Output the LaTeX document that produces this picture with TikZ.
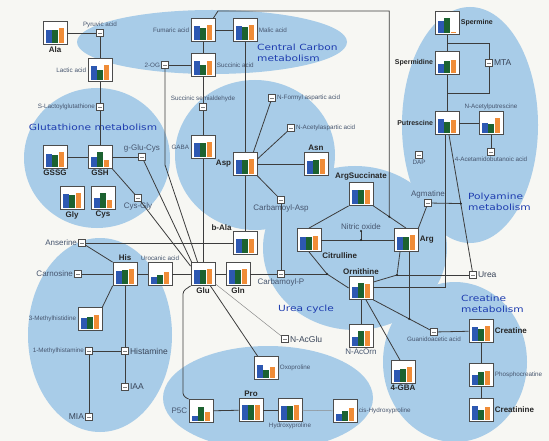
\documentclass[tikz,border=0pt]{standalone}
\usepackage{fontspec}
\setmainfont{Liberation Sans}
\newfontfamily\pathfont[FakeStretch=1.25]{DejaVu Sans}
\usetikzlibrary{positioning,calc}

\definecolor{bgcol}{RGB}{247,247,243}
\definecolor{blobcol}{RGB}{168,204,232}
\definecolor{barblue}{RGB}{45,88,178}
\definecolor{bargreen}{RGB}{28,98,48}
\definecolor{barorange}{RGB}{240,140,55}
\definecolor{pathcol}{RGB}{30,60,175}
\definecolor{labcol}{RGB}{70,85,110}
\definecolor{linecol}{RGB}{60,60,60}

% bar chart box: name, x, y, three bar heights
\newcommand{\barbox}[6]{%
  \node[chart] (#1) at (#2,#3) {};
  \fill[barblue] ([xshift=-9pt,yshift=2pt]#1.south) rectangle ++(5.5pt,#4*17pt);
  \fill[bargreen] ([xshift=-2.75pt,yshift=2pt]#1.south) rectangle ++(5.5pt,#5*17pt);
  \fill[barorange] ([xshift=3.5pt,yshift=2pt]#1.south) rectangle ++(5.5pt,#6*17pt);
}

\begin{document}
\begin{tikzpicture}[x=1pt,y=-1pt,
  chart/.style={draw=black!70, fill=white, line width=0.8pt, minimum width=24pt, minimum height=23pt, inner sep=0pt},
  met/.style={draw=black!70, fill=white, line width=0.6pt, minimum size=6.5pt, inner sep=0pt,
    path picture={\draw[black!50,line width=0.4pt] ([xshift=-1.6pt]path picture bounding box.center) -- ([xshift=1.6pt]path picture bounding box.center);}},
  sm/.style={font=\fontsize{6.3}{7}\selectfont, text=labcol, inner sep=0.8pt},
  md/.style={font=\fontsize{8}{9}\selectfont, text=labcol, inner sep=0.8pt},
  lg/.style={font=\fontsize{8.5}{9.5}\selectfont, text=labcol!80!black, inner sep=0.8pt},
  nm/.style={font=\fontsize{8}{9}\selectfont\bfseries, text=black!85, inner sep=0.8pt},
  nms/.style={font=\fontsize{7}{8}\selectfont\bfseries, text=black!85, inner sep=0.8pt},
  pw/.style={font=\pathfont\fontsize{8.5}{10.5}\selectfont, text=pathcol, align=left, inner sep=0pt},
  link/.style={draw=linecol, line width=0.8pt},
  thinlink/.style={draw=black!45, line width=0.5pt}
]
\fill[bgcol] (0,0) rectangle (549,441);
\useasboundingbox (0,0) rectangle (549,441);

% pathway areas
\fill[blobcol] (212,42) ellipse [x radius=135, y radius=32];
\fill[blobcol] (97,158) ellipse [x radius=73, y radius=70];
\fill[blobcol] (255,155) ellipse [x radius=80, y radius=75];
\fill[blobcol] (355,248) ellipse [x radius=92, y radius=82];
\fill[blobcol] (470,125) ellipse [x radius=68, y radius=118];
\fill[blobcol] (100,335) ellipse [x radius=72, y radius=97];
\fill[blobcol] (268,398) ellipse [x radius=105, y radius=52];
\fill[blobcol] (455,362) ellipse [x radius=72, y radius=80];

\node[pw, anchor=west] (pcc) at (257,53) {Central Carbon\\metabolism};
\node[pw] (pgt) at (93,127) {Glutathione metabolism};
\node[pw] (puc) at (306,309) {Urea cycle};
\node[pw, anchor=west] (ppa) at (468,202) {Polyamine\\metabolism};
\node[pw, anchor=west] (pcr) at (461,304) {Creatine\\metabolism};

% measured metabolites
\barbox{Ala}{55}{33}{0.75}{0.75}{0.85}
\barbox{Lac}{100}{70}{0.8}{0.6}{0.85}
\barbox{Fum}{203}{30}{0.8}{0.7}{0.85}
\barbox{Mal}{245}{30}{0.8}{0.75}{0.85}
\barbox{Suc}{203}{65}{0.8}{0.6}{0.8}
\barbox{GABA}{203}{147}{0.8}{0.8}{0.85}
\barbox{GSSG}{55}{157}{0.75}{0.7}{0.85}
\barbox{GSH}{100}{157}{0.6}{0.85}{0.4}
\barbox{Gly}{72}{198}{0.8}{0.75}{0.85}
\barbox{Cys}{103}{198}{0.6}{0.85}{0.45}
\barbox{Asp}{245}{164}{0.8}{0.8}{0.85}
\barbox{Asn}{316}{164}{0.75}{0.8}{0.85}
\barbox{bAla}{245}{243}{0.8}{0.8}{0.8}
\barbox{ArgS}{361}{194}{0.8}{0.8}{0.8}
\barbox{Cit}{309}{240}{0.75}{0.75}{0.8}
\barbox{Arg}{406}{240}{0.75}{0.75}{0.9}
\barbox{Orn}{361}{288}{0.65}{0.85}{0.8}
\barbox{His}{125}{274}{0.75}{0.8}{0.85}
\barbox{Uro}{160}{274}{0.4}{0.55}{0.7}
\barbox{Glu}{203}{274}{0.8}{0.8}{0.85}
\barbox{Gln}{238}{274}{0.8}{0.8}{0.85}
\barbox{MeHis}{90}{319}{0.65}{0.7}{0.8}
\barbox{Spm}{447}{23}{0.7}{0.85}{0.04}
\barbox{Spd}{447}{63}{0.5}{0.7}{0.75}
\barbox{Put}{447}{123}{0.8}{0.65}{0.75}
\barbox{AcPut}{491}{123}{0.6}{0.5}{0.85}
\barbox{AcOrn}{361}{336}{0.55}{0.85}{0.85}
\barbox{GBA}{403}{372}{0.7}{0.75}{0.85}
\barbox{Cr}{481}{331}{0.8}{0.7}{0.85}
\barbox{PCr}{481}{375}{0.6}{0.75}{0.8}
\barbox{Crn}{481}{410}{0.8}{0.6}{0.75}
\barbox{Oxo}{266}{368}{0.75}{0.45}{0.65}
\barbox{PC}{201}{411}{0.3}{0.8}{0.5}
\barbox{Pro}{251}{410}{0.85}{0.85}{0.9}
\barbox{Hyp}{290}{410}{0.8}{0.8}{0.85}
\barbox{cHyp}{345}{411}{0.4}{0.6}{0.75}

% other metabolites
\begin{scope}[every node/.style={met}]
    \node (pyr) at (100,33) {};
    \node (og) at (165,65) {};
    \node (slg) at (100,107) {};
    \node (ssa) at (203,107) {};
    \node (nfa) at (272,98) {};
    \node (naa) at (291,128) {};
    \node (ggc) at (142,157) {};
    \node (cg) at (138,198) {};
    \node (ans) at (82,243) {};
    \node (car) at (78,274) {};
    \node (cap) at (281,200) {};
    \node (cp) at (281,274) {};
    \node (agm) at (428,203) {};
    \node (urea) at (473,275) {};
    \node (mta) at (489,63) {};
    \node (dap) at (419,155) {};
    \node (aab) at (491,152) {};
    \node (gaa) at (434,332) {};
    \node (hist) at (125,351) {};
    \node (mhist) at (89,351) {};
    \node (iaa) at (125,387) {};
    \node (mia) at (89,417) {};
    \node (nag) at (285,339) {};
\end{scope}

% labels
\node[nm, below=0.5pt of Ala] (lAla) {Ala};
\node[sm, above=0.5pt of pyr] (lpyr) {Pyruvic acid};
\node[sm, left=0.5pt of Lac] (lLac) {Lactic acid};
\node[sm, left=0.5pt of slg] (lslg) {S-Lactoylglutathione};
\node[sm, left=0.5pt of og] (log) {2-OG};
\node[sm, left=0.5pt of Fum] (lFum) {Fumaric acid};
\node[sm, right=0.5pt of Mal] (lMal) {Malic acid};
\node[sm, right=0.5pt of Suc] (lSuc) {Succinic acid};
\node[sm, above=0.5pt of ssa] (lssa) {Succinic semialdehyde};
\node[sm, left=0.5pt of GABA] (lGABA) {GABA};
\node[sm, right=0.5pt of nfa] (lnfa) {N-Formyl aspartic acid};
\node[sm, right=0.5pt of naa] (lnaa) {N-Acetylaspartic acid};
\node[nm, left=0.5pt of Asp] (lAsp) {Asp};
\node[nm, above=0.5pt of Asn] (lAsn) {Asn};
\node[nm, below=0.5pt of GSSG] (lGSSG) {GSSG};
\node[nm, below=0.5pt of GSH] (lGSH) {GSH};
\node[nm, below=0.5pt of Gly] (lGly) {Gly};
\node[nm, below=0.5pt of Cys] (lCys) {Cys};
\node[md, above=0.5pt of ggc] (lggc) {g-Glu-Cys};
\node[md, below=0.5pt of cg] (lcg) {Cys-Gly};
\node[md, left=0.5pt of ans] (lans) {Anserine};
\node[md, left=0.5pt of car] (lcar) {Carnosine};
\node[nm, above=0.5pt of His] (lHis) {His};
\node[sm, above=0.5pt of Uro] (lUro) {Urocanic acid};
\node[nm, below=0.5pt of Glu] (lGlu) {Glu};
\node[nm, below=0.5pt of Gln] (lGln) {Gln};
\node[nm, anchor=south east] (lbAla) at (bAla.north west) {b-Ala};
\node[md, below=0.5pt of cap] (lcap) {Carbamoyl-Asp};
\node[md, below=0.5pt of cp] (lcp) {Carbamoyl-P};
\node[nm, above=0.5pt of ArgS] (lArgS) {ArgSuccinate};
\node[nm, anchor=north west] (lCit) at (Cit.south east) {Citrulline};
\node[nm, right=0.5pt of Arg] (lArg) {Arg};
\node[nm, above=0.5pt of Orn] (lOrn) {Ornithine};
\node[md, above=0.5pt of agm] (lagm) {Agmatine};
\node[lg, right=0.5pt of urea] (lurea) {Urea};
\node[lg, right=0.5pt of mta] (lmta) {MTA};
\node[sm, below=0.5pt of dap] (ldap) {DAP};
\node[sm, below=0.5pt of aab] (laab) {4-Acetamidobutanoic acid};
\node[sm, above=0.5pt of AcPut] (lAcPut) {N-Acetylputrescine};
\node[nms, right=0.5pt of Spm] (lSpm) {Spermine};
\node[nms, left=0.5pt of Spd] (lSpd) {Spermidine};
\node[nms, left=0.5pt of Put] (lPut) {Putrescine};
\node[sm, below=0.5pt of gaa] (lgaa) {Guanidoacetic acid};
\node[nm, right=0.5pt of Cr] (lCr) {Creatine};
\node[sm, right=0.5pt of PCr] (lPCr) {Phosphocreatine};
\node[nm, right=0.5pt of Crn] (lCrn) {Creatinine};
\node[nm, below=0.5pt of GBA] (lGBA) {4-GBA};
\node[md, below=0.5pt of AcOrn] (lAcOrn) {N-AcOrn};
\node[lg, right=0.5pt of nag] (lnag) {N-AcGlu};
\node[sm, right=0.5pt of Oxo] (lOxo) {Oxoproline};
\node[md, left=0.5pt of PC] (lPC) {P5C};
\node[nm, above=0.5pt of Pro] (lPro) {Pro};
\node[sm, below=0.5pt of Hyp] (lHyp) {Hydroxyproline};
\node[sm, right=0.5pt of cHyp] (lcHyp) {cis-Hydroxyproline};
\node[lg, right=0.5pt of hist] (lhist) {Histamine};
\node[sm, left=0.5pt of mhist] (lmhist) {1-Methylhistamine};
\node[lg, right=0.5pt of iaa] (liaa) {IAA};
\node[lg, left=0.5pt of mia] (lmia) {MIA};
\node[sm, left=0.5pt of MeHis] (lMeHis) {3-Methylhistidine};

% junctions
\coordinate (fj) at ($(ArgS.south east)!0.485!(Arg.north)$);
\coordinate (ft1) at (218,11);
\coordinate (ft2) at (fj |- ft1);
\coordinate (urj) at (397,275);
\coordinate (cpj) at (327,274);
\coordinate (no1) at (361,231);
\coordinate (no2) at (361,240);
\coordinate (gj) at ($(Orn.south east)!0.59!(gaa)$);
\coordinate (agj) at ($([xshift=2pt]Put.south)!0.49!(urea)$);
\coordinate (ogb) at (165,165);
\coordinate (gpb1) at (183,291);
\coordinate (gpb2) at (183,396);
\coordinate (mt1) at ($(Spm.south)!0.5!(Spd.north)$);
\coordinate (mt2) at ($(Spd.south)!0.5!(Put.north)$);
\node[md, above=0.5pt of no1] (lno) {Nitric oxide};

% central carbon and glutathione
\draw[link] (Ala) -- (pyr);
\draw[link] (pyr) -- (Lac);
\draw[link] (Lac) -- (slg);
\draw[link] (slg) -- (GSH);
\draw[link] (GSSG) -- (GSH);
\draw[link] (GSH) -- (ggc);
\draw[link] (GSH.south east) -- (cg);
\draw[link] (ggc) -- ([xshift=1pt]Glu.north west);
\draw[link] (cg) -- ([yshift=-4pt]Glu.north west);
\draw[link] (og) -- (Suc);
\draw[link] (og) -- (ogb) -- ([xshift=7pt]Glu.north west);
\draw[link] (Fum) -- (Mal);
\draw[link] (Fum) -- (Suc);
\draw[link] (Suc) -- (ssa);
\draw[link] (ssa) -- (GABA);
\draw[link] (GABA) -- (Glu);
\draw[link] ([xshift=-2pt]Fum.north east) -- (ft1) -- (ft2) -- (fj);

% aspartate
\draw[link] (Mal) -- (Asp);
\draw[link] (Asp) -- (Asn);
\draw[link] (Asp) -- (bAla);
\draw[link] ([xshift=-4pt]Asp.north east) -- (nfa);
\draw[link] ([yshift=5pt]Asp.east) -- (naa);
\draw[link] (Asp.south east) -- (cap);
\draw[link] (cap) -- (cp);

% urea cycle
\draw[link] (Cit.north) -- (ArgS.south west);
\draw[link] (ArgS.south east) -- (fj) -- (Arg.north);
\draw[link] ([xshift=-6pt]Arg.south) -- (urj) -- ([yshift=6pt]Orn.east);
\draw[link] (Orn.west) -- (cpj) -- (Cit.south);
\draw[link] (Cit) -- (Arg);
\draw[link] (no1) -- (no2);
\draw[link] (Glu) -- (Gln);
\draw[link] (Gln) -- (cp);
\draw[link] (cp) -- (cpj);
\draw[link] (urj) -- (urea);
\draw[link] (Arg.north east) -- (agm);
\draw[link] (agm) -- (agj);
\draw[link] ([xshift=2pt]Put.south) -- (urea);
\draw[link] ([yshift=1pt]Orn.east) -| ([xshift=-2pt]Put.south);
\draw[link] (Orn) -- (AcOrn);
\draw[link] ([xshift=5pt]Orn.south) -- ([xshift=-3pt]GBA.north);
\draw[link] (Orn.south east) -- (gaa);
\draw[link] (Arg.south -| gj) -- (gj);

% polyamines
\draw[link] (Spm) -- (Spd);
\draw[link] (Spd) -- (Put);
\draw[link] (mt1) -| (mta);
\draw[link] (mta) |- (mt2);
\draw[link] (Put) -- (AcPut);
\draw[link] (AcPut) -- (aab);

% creatine
\draw[link] (gaa) -- (Cr);
\draw[link] (Cr) -- (PCr);
\draw[link] (PCr) -- (Crn);

% histidine
\draw[link] (His) -- (Uro);
\draw[link] (Uro) -- (Glu);
\draw[link] (car) -- (His);
\draw[link] (ans) -- (His.north west);
\draw[link] (ans) -- (bAla);
\draw[link] (His.south west) -- (MeHis.north east);
\draw[link] (His) -- (hist);
\draw[link] (hist) -- (iaa);
\draw[link] (mhist) -- (hist);
\draw[link] (mhist) -- (mia);

% proline
\draw[link, rounded corners=3pt] (Glu.south west) -- (gpb1) -- (gpb2) -- (PC.north west);
\draw[link] ([xshift=-5pt]Glu.south east) -- ([xshift=4pt]Oxo.north west);
\draw[thinlink] ([yshift=2pt]Glu.south east) -- (nag);
\draw[link] (PC) -- (Pro);
\draw[link] (Pro) -- (Hyp);
\draw[thinlink] (Hyp) -- (cHyp);

\foreach \j in {fj,urj,cpj,no1,no2,gj,agj}
  \fill[black!85] (\j) circle (1.2pt);
\end{tikzpicture}
\end{document}
